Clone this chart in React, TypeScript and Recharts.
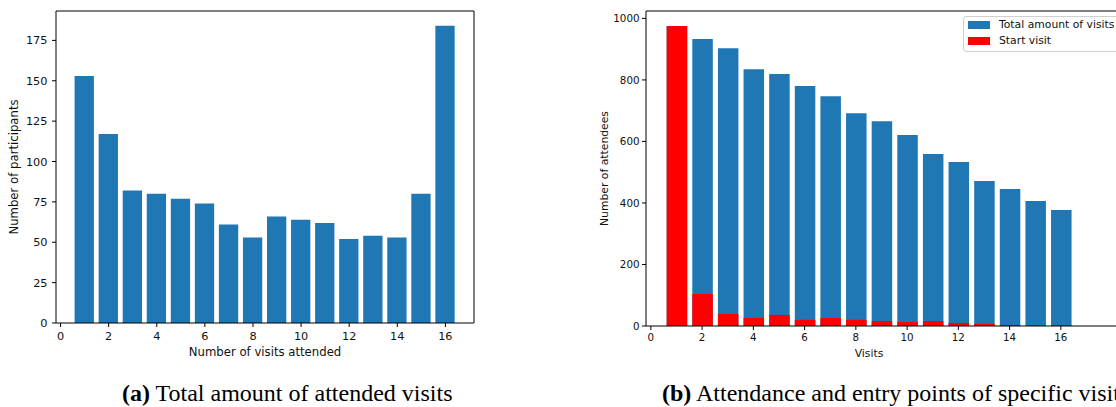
import { Bar, BarChart, Label, Legend, ReferenceLine, XAxis, YAxis } from "recharts";

const FONT = "'DejaVu Sans', sans-serif";
const SERIF = "'Liberation Serif', 'Times New Roman', serif";
const BLUE = "#1f77b4";
const RED = "#ff0000";

const visitNumbers = [1, 2, 3, 4, 5, 6, 7, 8, 9, 10, 11, 12, 13, 14, 15, 16];
const participantsByVisitsAttended = [153, 117, 82, 80, 77, 74, 61, 53, 66, 64, 62, 52, 54, 53, 80, 184];
const totalAttendees = [975, 933, 903, 835, 819, 780, 747, 692, 666, 621, 559, 533, 471, 445, 406, 377];
const startVisitAttendees = [975, 104, 39, 26, 36, 20, 26, 20, 16, 13, 16, 10, 7, 3, 1, 3];

const visitTicks = [0, 2, 4, 6, 8, 10, 12, 14, 16];
const participantTicks = [0, 25, 50, 75, 100, 125, 150, 175];
const attendeeTicks = [0, 200, 400, 600, 800, 1000];

// axis limits as matplotlib picked them (5% padding)
const leftX: [number, number] = [-0.19, 17.19];
const leftY: [number, number] = [0, 193.2];
const rightX: [number, number] = [-0.19, 18.62];
const rightY: [number, number] = [0, 1024];

const legendOrder = ["total", "start"];

const attendedRows = visitNumbers.map((visits, i) => ({
  visits,
  participants: participantsByVisitsAttended[i],
}));

const visitRows = visitNumbers.map((visit, i) => ({
  visit,
  total: totalAttendees[i],
  start: startVisitAttendees[i],
}));

type LegendEntry = { value?: string; color?: string; dataKey?: string };

function LegendBox({ payload }: { payload?: LegendEntry[] }) {
  const items = [...(payload ?? [])].sort(
    (a, b) => legendOrder.indexOf(String(a.dataKey)) - legendOrder.indexOf(String(b.dataKey))
  );
  return (
    <div
      style={{
        border: "1px solid #d0d0d0",
        borderRadius: 3,
        background: "rgba(255, 255, 255, 0.8)",
        padding: "0 30px 2px 4px",
        fontFamily: FONT,
        fontSize: 10.8,
        lineHeight: "16px",
        color: "#111",
      }}
    >
      {items.map((entry) => (
        <div key={entry.value} style={{ display: "flex", alignItems: "center", whiteSpace: "nowrap" }}>
          <span
            style={{ display: "inline-block", width: 22, height: 8, background: entry.color, marginRight: 9 }}
          />
          <span>{entry.value}</span>
        </div>
      ))}
    </div>
  );
}

function AttendedVisitsChart() {
  const tick = { fill: "#111", fontSize: 11.3, fontFamily: FONT };
  return (
    <BarChart width={490} height={370} data={attendedRows} margin={{ top: 11, right: 16, bottom: 0, left: 0 }}>
      <XAxis
        dataKey="visits"
        type="number"
        domain={leftX}
        ticks={visitTicks}
        interval={0}
        allowDataOverflow
        height={47}
        tickSize={4}
        tickMargin={5}
        stroke="#000"
        tick={tick}
      >
        <Label value="Number of visits attended" position="center" dy={5} fill="#111" fontSize={11.7} fontFamily={FONT} />
      </XAxis>
      <YAxis
        type="number"
        domain={leftY}
        ticks={participantTicks}
        interval={0}
        allowDataOverflow
        width={56}
        tickSize={4}
        tickMargin={4.5}
        stroke="#000"
        tick={tick}
      >
        <Label value="Number of participants" angle={-90} position="center" dx={-13.7} fill="#111" fontSize={11.7} fontFamily={FONT} />
      </YAxis>
      <Bar dataKey="participants" fill={BLUE} barSize={19.3} isAnimationActive={false} />
      <ReferenceLine y={leftY[1]} stroke="#000" ifOverflow="visible" />
      <ReferenceLine x={leftX[1]} stroke="#000" ifOverflow="visible" />
    </BarChart>
  );
}

function VisitAttendanceChart() {
  const tick = { fill: "#111", fontSize: 10.3, fontFamily: FONT };
  return (
    <BarChart
      width={578}
      height={370}
      data={visitRows}
      barGap={-20.5}
      margin={{ top: 11, right: 10, bottom: 0, left: 0 }}
    >
      <XAxis
        dataKey="visit"
        type="number"
        domain={rightX}
        ticks={visitTicks}
        interval={0}
        allowDataOverflow
        height={44}
        tickSize={4}
        tickMargin={4}
        stroke="#000"
        tick={tick}
      >
        <Label value="Visits" position="center" dx={-18} dy={4.7} fill="#111" fontSize={10.8} fontFamily={FONT} />
      </XAxis>
      <YAxis
        type="number"
        domain={rightY}
        ticks={attendeeTicks}
        interval={0}
        allowDataOverflow
        width={86}
        tickSize={4}
        tickMargin={2.5}
        stroke="#000"
        tick={tick}
      >
        <Label value="Number of attendees" angle={-90} position="center" dx={0.7} fill="#111" fontSize={10.8} fontFamily={FONT} />
      </YAxis>
      <Legend
        layout="horizontal"
        align="center"
        verticalAlign="middle"
        wrapperStyle={{ top: 16, left: 403, width: "auto", height: "auto" }}
        content={<LegendBox />}
      />
      <Bar dataKey="total" name="Total amount of visits" fill={BLUE} barSize={20.5} isAnimationActive={false} />
      <Bar dataKey="start" name="Start visit" fill={RED} barSize={20.5} isAnimationActive={false} />
      <ReferenceLine y={rightY[1]} stroke="#000" ifOverflow="visible" />
    </BarChart>
  );
}

export default function App() {
  return (
    <div
      style={{
        position: "absolute",
        left: 0,
        top: 0,
        width: 1116,
        height: 407,
        overflow: "hidden",
        background: "#fff",
      }}
    >
      <div style={{ position: "absolute", left: 0, top: 0 }}>
        <AttendedVisitsChart />
      </div>
      <div style={{ position: "absolute", left: 560, top: 0 }}>
        <VisitAttendanceChart />
      </div>
      <svg width={1116} height={407} style={{ position: "absolute", left: 0, top: 0, pointerEvents: "none" }}>
        <text x={122} y={401} fontFamily={SERIF} fontSize={24} fill="#000">
          <tspan fontWeight="bold">(a)</tspan> Total amount of attended visits
        </text>
        <text x={662} y={401} fontFamily={SERIF} fontSize={24} fill="#000">
          <tspan fontWeight="bold">(b)</tspan> Attendance and entry points of specific visits
        </text>
      </svg>
    </div>
  );
}
